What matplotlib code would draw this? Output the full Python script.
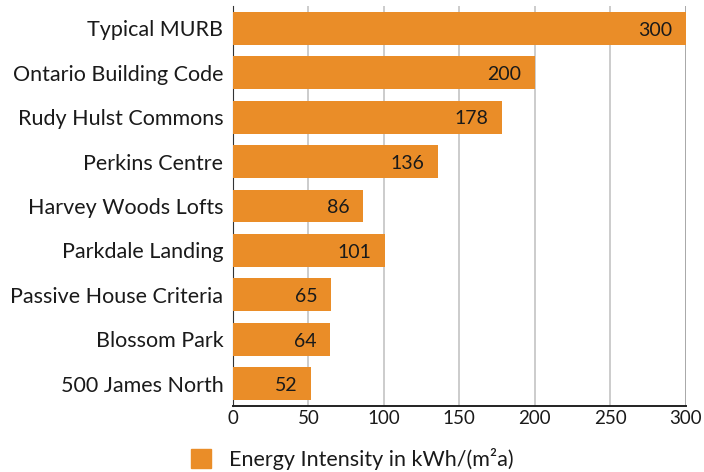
import matplotlib.pyplot as plt
from matplotlib.patches import Patch

plt.rcParams['font.family'] = ['Lato', 'DejaVu Sans']

buildings = ["Typical MURB", "Ontario Building Code", "Rudy Hulst Commons",
             "Perkins Centre", "Harvey Woods Lofts", "Parkdale Landing",
             "Passive House Criteria", "Blossom Park", "500 James North"]
intensity = [300, 200, 178, 136, 86, 101, 65, 64, 52]
ticks = [0, 50, 100, 150, 200, 250, 300]

orange = "#EA8D28"
txt = "#1a1a1a"

fig = plt.figure(figsize=(7.04, 4.72), dpi=100)
ax = fig.add_axes([0.331, 0.140, 0.643, 0.847])

ypos = list(range(len(buildings)))
ax.barh(ypos, intensity, height=0.74, color=orange, zorder=3)
for y, v in zip(ypos, intensity):
    ax.text(v - 9, y + 0.04, str(v), ha="right", va="center",
            fontsize=14, color=txt, zorder=4)

ax.set_ylim(len(buildings) - 0.5, -0.5)
ax.set_xlim(0, 300)
ax.set_yticks(ypos)
ax.set_yticklabels(buildings, fontsize=15.5, color=txt)
ax.set_xticks(ticks)
ax.set_xticklabels([str(t) for t in ticks], fontsize=13.5, color=txt)
ax.tick_params(length=0, pad=7)
ax.tick_params(axis="x", pad=3)

for t in ticks[1:-1]:
    ax.axvline(t, color="#c8c8c8", lw=1.3, zorder=1)
ax.axvline(300, color="#999999", lw=1.2, zorder=1)

for s in ["top", "right"]:
    ax.spines[s].set_visible(False)
ax.spines["left"].set_color("#333333")
ax.spines["bottom"].set_color("#222222")
ax.spines["bottom"].set_linewidth(1.4)

fig.legend(handles=[Patch(color=orange)],
           labels=["Energy Intensity in kWh/(m²a)"],
           loc="center", bbox_to_anchor=(0.5, 0.028), frameon=False,
           fontsize=15.5, handlelength=0.95, handleheight=1.0,
           handletextpad=0.8, labelcolor=txt)

fig.savefig("out.png", dpi=100)
